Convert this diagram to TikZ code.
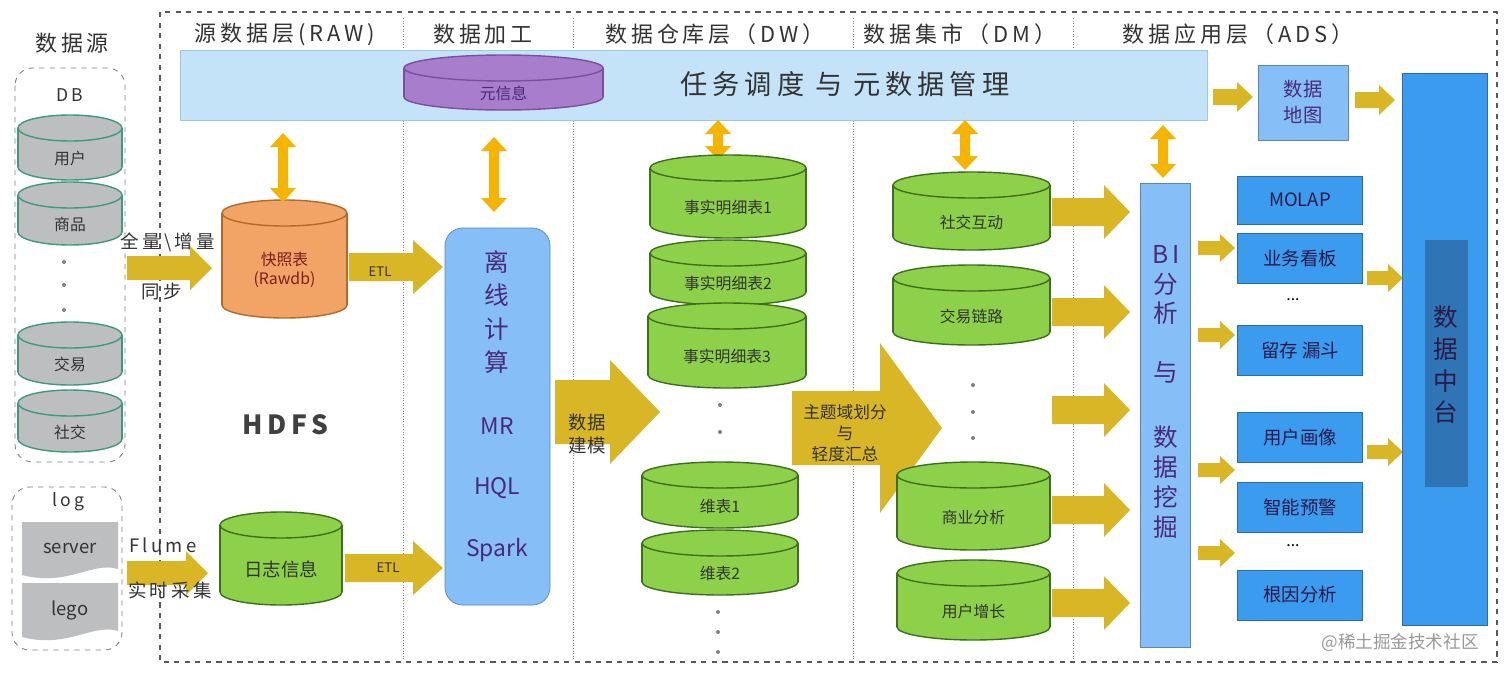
\documentclass[tikz,border=0pt]{standalone}
\usepackage{fontspec}
\setmainfont{Noto Sans CJK SC}
\newfontfamily\hdr[LetterSpace=18]{Noto Sans CJK SC}
\definecolor{barc}{HTML}{C5E3F8}
\definecolor{barb}{HTML}{9CC8EA}
\definecolor{purp}{HTML}{A87DCB}
\definecolor{purpb}{HTML}{7B4E9E}
\definecolor{grayc}{HTML}{BDBEC0}
\definecolor{teal}{HTML}{3D9A7A}
\definecolor{orng}{HTML}{F2A366}
\definecolor{orngb}{HTML}{B06A2E}
\definecolor{grn}{HTML}{8DD14A}
\definecolor{grnb}{HTML}{3F6E1E}
\definecolor{offb}{HTML}{86BFF7}
\definecolor{txtp}{HTML}{4A2A78}
\definecolor{adsb}{HTML}{3A9BEF}
\definecolor{dark}{HTML}{2F74B5}
\definecolor{arrowc}{HTML}{D8B626}
\definecolor{darrowc}{HTML}{F5B400}
\definecolor{txtd}{HTML}{333333}
\definecolor{snapt}{HTML}{7A2020}
\tikzset{
 cyltext/.style={font=\fontsize{9}{11}\selectfont, text=txtd, align=center},
 hdrtext/.style={font=\hdr\fontsize{12.5}{14}\selectfont, text=txtd},
 adsbox/.style={fill=adsb, draw=adsb!70!black, line width=0.4pt, font=\fontsize{10.5}{12}\selectfont, text=txtp!60!black},
}
\newcommand\cyl[9]{%
 \pgfmathsetmacro\cxx{(#2+#4)/2}\pgfmathsetmacro\rxx{(#4-#2)/2}%
 \pgfmathsetmacro\ta{#3+13}\pgfmathsetmacro\tb{#5-13}%
 \fill[#6,draw=#7,line width=0.8pt] (\cxx,\tb) ellipse [x radius=\rxx, y radius=13];
 \fill[#6] (#2,\ta) rectangle (#4,\tb);
 \draw[#7,line width=0.8pt] (#2,\ta)--(#2,\tb) (#4,\ta)--(#4,\tb);
 \fill[#6,draw=#7,line width=0.8pt] (\cxx,\ta) ellipse [x radius=\rxx, y radius=13];
 \pgfmathsetmacro\my{(#3+#5)/2+11}%
 \node[cyltext, text=#9] (#1) at (\cxx,\my) {#8};}
\newcommand\farrow[6]{%
 \pgfmathsetmacro\hx{#2-#6}%
 \fill[arrowc] (#1,#3-#4) -- (\hx,#3-#4) -- (\hx,#3-#5) -- (#2,#3) -- (\hx,#3+#5) -- (\hx,#3+#4) -- (#1,#3+#4) -- cycle;}
\newcommand\darrow[3]{%
 \fill[darrowc] (#1,#2) -- (#1+13,#2+14) -- (#1+5,#2+14) -- (#1+5,#3-14) -- (#1+13,#3-14) -- (#1,#3) -- (#1-13,#3-14) -- (#1-5,#3-14) -- (#1-5,#2+14) -- (#1-13,#2+14) -- cycle;}
\newcommand\docshape[4]{%
 \fill[grayc] (#1,#2) -- (#3,#2) -- (#3,#4-6) .. controls (#3-25,#4-14) and (#1+45,#4+12) .. (#1,#4) -- cycle;}
\begin{document}
\begin{tikzpicture}[x=0.02cm,y=-0.02cm]
\useasboundingbox (0,0) rectangle (1512,673);
\fill[white] (0,0) rectangle (1512,673);
% outer frame and separators
\draw[dashed, gray!70!black, line width=0.6pt] (160,12) rectangle (1497,662);
\foreach \sx in {403,573,853,1073} \draw[densely dotted, gray, line width=0.5pt] (\sx,18) -- (\sx,660);
% headers
\node[hdrtext] (h0) at (72,43) {数据源};
\node[hdrtext] (h1) at (285,34) {源数据层(RAW)};
\node[hdrtext] (h2) at (483,34) {数据加工};
\node[hdrtext] (h3) at (715,34) {数据仓库层（DW）};
\node[hdrtext] (h4) at (960,34) {数据集市（DM）};
\node[hdrtext] (h5) at (1238,34) {数据应用层（ADS）};
% top bar
\fill[barc, draw=barb, line width=0.5pt] (180,50) rectangle (1207,120);
\node[font=\hdr\fontsize{15.5}{17}\selectfont, text=txtd] (bar) at (845,84) {任务调度 与 元数据管理};
\cyl{meta}{404}{55}{603}{110}{purp}{purpb}{元信息}{txtp}
% data sources
\draw[dashed, gray, rounded corners=10pt, line width=0.5pt] (15,68) rectangle (125,462);
\node[hdrtext, font=\hdr\fontsize{10}{12}\selectfont] (db) at (70,95) {DB};
\cyl{s1}{18}{115}{122}{180}{grayc}{teal}{用户}{txtd}
\cyl{s2}{18}{182}{122}{245}{grayc}{teal}{商品}{txtd}
\foreach \dy in {262,285,310} \fill[gray] (64,\dy) circle (2);
\cyl{s3}{18}{322}{122}{385}{grayc}{teal}{交易}{txtd}
\cyl{s4}{18}{390}{122}{452}{grayc}{teal}{社交}{txtd}
\draw[dashed, gray, rounded corners=10pt, line width=0.5pt] (12,487) rectangle (122,650);
\node[hdrtext, font=\hdr\fontsize{10}{12}\selectfont] (lg) at (68,502) {log};
\docshape{22}{522}{118}{575}
\node[font=\fontsize{10.5}{12}\selectfont, text=txtd] (server) at (70,548) {server};
\docshape{22}{583}{118}{637}
\node[font=\fontsize{10.5}{12}\selectfont, text=txtd] (lego) at (70,610) {lego};
% RAW
\farrow{127}{212}{268}{12}{22}{22}
\node[font=\hdr\fontsize{10.5}{12}\selectfont, text=txtd] (q1) at (168,242) {全量\textbackslash 增量};
\node[font=\hdr\fontsize{10.5}{12}\selectfont, text=txtd] (q2) at (162,292) {同步};
\cyl{snap}{222}{200}{347}{318}{orng}{orngb}{快照表\\(Rawdb)}{snapt}
\darrow{283}{133}{202}
\farrow{349}{443}{267}{14}{27}{30}
\node[font=\fontsize{7.5}{9}\selectfont, text=txtd] (etl1) at (380,272) {ETL};
\node[font=\hdr\bfseries\fontsize{15}{18}\selectfont, text=black!75] (hdfs) at (285,425) {HDFS};
\farrow{127}{208}{573}{12}{22}{22}
\node[font=\hdr\fontsize{10.5}{12}\selectfont, text=txtd] (f1) at (163,545) {Flume};
\node[font=\hdr\fontsize{10.5}{12}\selectfont, text=txtd] (f2) at (170,590) {实时采集};
\cyl{logi}{220}{512}{342}{605}{grn}{grnb}{\fontsize{10.5}{12}\selectfont 日志信息}{txtd}
\farrow{345}{443}{568}{14}{27}{30}
\node[font=\fontsize{7.5}{9}\selectfont, text=txtd] (etl2) at (388,568) {ETL};
% processing
\darrow{494}{137}{212}
\fill[offb, draw=offb!70!black, rounded corners=10pt, line width=0.4pt] (445,228) rectangle (550,605);
\node[font=\fontsize{14}{19}\selectfont, text=txtp, align=center] (off) at (497,312) {离\\线\\计\\算};
\node[font=\fontsize{13}{15}\selectfont, text=txtp] (mr) at (497,426) {MR};
\node[font=\fontsize{13}{15}\selectfont, text=txtp] (hql) at (497,488) {HQL};
\node[font=\fontsize{13}{15}\selectfont, text=txtp] (spark) at (497,550) {Spark};
\farrow{555}{660}{412}{32}{52}{50}
\node[font=\fontsize{10.5}{13}\selectfont, text=txtd, align=center] (model) at (587,434) {数据\\建模};
% DW
\darrow{718}{120}{160}
\cyl{f1c}{650}{155}{806}{238}{grn}{grnb}{事实明细表1}{txtd}
\cyl{f2c}{650}{240}{806}{305}{grn}{grnb}{事实明细表2}{txtd}
\cyl{f3c}{648}{303}{806}{388}{grn}{grnb}{事实明细表3}{txtd}
\foreach \dy in {405,432} \fill[gray] (720,\dy) circle (2);
\cyl{d1}{642}{462}{798}{528}{grn}{grnb}{维表1}{txtd}
\cyl{d2}{642}{530}{798}{595}{grn}{grnb}{维表2}{txtd}
\foreach \dy in {612,632,652} \fill[gray] (718,\dy) circle (2);
\farrow{792}{942}{428}{37}{85}{62}
\node[font=\fontsize{9.5}{12}\selectfont, text=txtd, align=center] (topic) at (845,433) {主题域划分\\与\\轻度汇总};
% DM
\darrow{965}{120}{170}
\cyl{m1}{893}{172}{1050}{250}{grn}{grnb}{社交互动}{txtd}
\cyl{m2}{893}{265}{1050}{345}{grn}{grnb}{交易链路}{txtd}
\foreach \dy in {385,412,438} \fill[gray] (973,\dy) circle (2);
\cyl{m3}{897}{462}{1050}{550}{grn}{grnb}{商业分析}{txtd}
\cyl{m4}{897}{560}{1050}{640}{grn}{grnb}{用户增长}{txtd}
\foreach \ay in {212,312,410,510,603} {\farrow{1052}{1130}{\ay}{14}{27}{26}}
% BI
\darrow{1163}{125}{178}
\fill[offb, draw=offb!70!black, line width=0.4pt] (1140,183) rectangle (1190,647);
\node[font=\fontsize{14}{17}\selectfont, text=txtp, align=center] (bi) at (1166,285) {B\,I\\分\\析};
\node[font=\fontsize{14}{17}\selectfont, text=txtp] (yu) at (1166,372) {与};
\node[font=\fontsize{14}{17}\selectfont, text=txtp, align=center] (mine) at (1166,482) {数\\据\\挖\\掘};
% ADS
\farrow{1213}{1253}{97}{8}{15}{16}
\fill[offb, draw=offb!70!black, line width=0.4pt] (1258,65) rectangle (1348,140);
\node[font=\fontsize{11}{15}\selectfont, text=txtp, align=center] (map) at (1303,102) {数据\\地图};
\farrow{1355}{1395}{100}{8}{15}{16}
\node[adsbox, minimum width=2.5cm, minimum height=0.96cm] (molap) at (1300,200) {MOLAP};
\node[adsbox, minimum width=2.5cm, minimum height=1.0cm] (kb) at (1300,258) {业务看板};
\node[font=\fontsize{9}{10}\selectfont] (e1) at (1293,300) {...};
\node[adsbox, minimum width=2.5cm, minimum height=1.0cm] (lc) at (1300,350) {留存 漏斗};
\node[adsbox, minimum width=2.5cm, minimum height=1.0cm] (hx) at (1300,437) {用户画像};
\node[adsbox, minimum width=2.5cm, minimum height=1.0cm] (yj) at (1300,507) {智能预警};
\node[font=\fontsize{9}{10}\selectfont] (e2) at (1293,546) {...};
\node[adsbox, minimum width=2.5cm, minimum height=1.0cm] (gy) at (1300,595) {根因分析};
\foreach \ay in {248,335,470,553} {\farrow{1198}{1235}{\ay}{7}{14}{15}}
\foreach \ay in {278,452} {\farrow{1367}{1403}{\ay}{7}{14}{15}}
\fill[adsb, draw=adsb!70!black, line width=0.4pt] (1402,73) rectangle (1487,625);
\fill[dark] (1425,240) rectangle (1468,487);
\node[font=\fontsize{14}{18}\selectfont, text=txtp!60!black, align=center] (zt) at (1446,365) {数\\据\\中\\台};
\node[font=\fontsize{10}{12}\selectfont, text=gray!80] (wm) at (1400,643) {@稀土掘金技术社区};
\end{tikzpicture}
\end{document}
